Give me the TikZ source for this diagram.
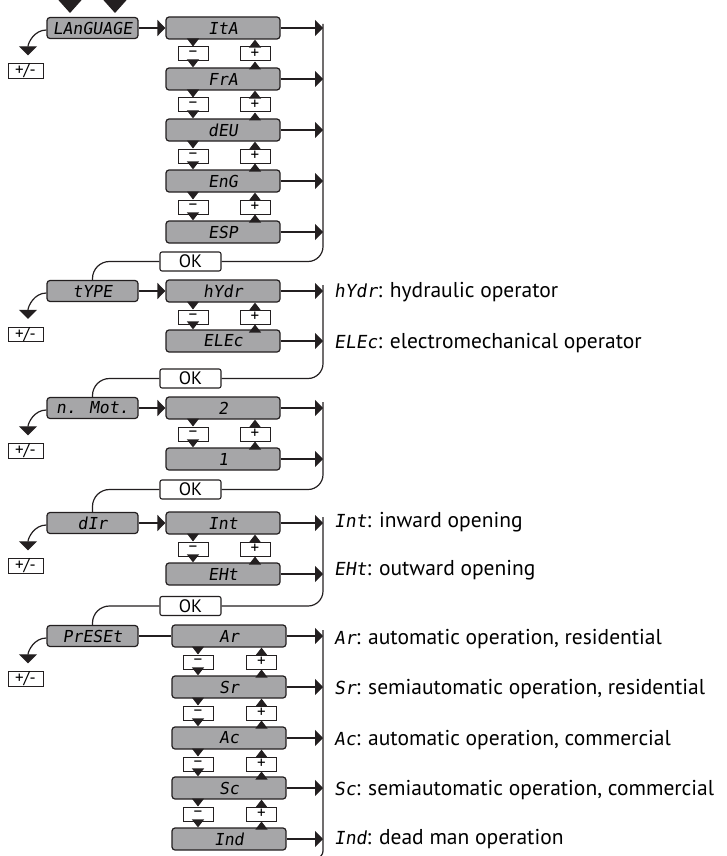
\documentclass[tikz,border=0pt]{standalone}
\usepackage{fontspec}
\setmainfont{PT Sans}
\newfontfamily\seg{DejaVu Sans Mono}[FakeSlant=0.15]
\usetikzlibrary{arrows.meta}
\definecolor{dispgray}{RGB}{166,166,168}
\definecolor{ink}{RGB}{35,31,32}
\newcommand\segtxt[1]{{\seg\fontsize{18}{18}\selectfont #1}}
\begin{document}
\begin{tikzpicture}[x=1pt,y=-1pt,
 conn/.style={draw=ink,line width=1.2pt},
 rarr/.style={conn,-{Triangle[length=8pt,width=16pt]}},
 varr/.style={conn,-{Triangle[length=8pt,width=12pt]}},
 pmarr/.style={conn,-{Triangle[length=9pt,width=18pt]}},
 toparr/.style={conn,-{Triangle[length=13pt,width=23pt]}},
 disp/.style={draw=ink,fill=dispgray,line width=1.2pt,rounded corners=3pt,minimum width=114pt,minimum height=22pt,inner sep=0pt,font=\seg\fontsize{16.5}{18}\selectfont},
 menu/.style={disp,minimum width=91pt,minimum height=21pt},
 okbox/.style={draw=ink,fill=white,line width=1.1pt,rounded corners=2pt,minimum width=61pt,minimum height=19pt,inner sep=0pt,font=\fontsize{18}{18}\selectfont},
 keybox/.style={draw=ink,fill=white,line width=1pt,minimum width=30pt,minimum height=14pt,inner sep=0pt,font=\fontsize{17}{14}\selectfont},
 pmbox/.style={keybox,minimum width=35pt,minimum height=12pt,font=\fontsize{17}{12}\selectfont},
 desc/.style={anchor=west,inner sep=0pt,font=\fontsize{21.5}{22}\selectfont},
]
\useasboundingbox (0,0) rectangle (726,856);

% top entry arrows
\coordinate (t1a) at (70,0); \coordinate (t1b) at (70,13);
\coordinate (t2a) at (115,0); \coordinate (t2b) at (115,13);
\draw[toparr] (t1a) -- (t1b);
\draw[toparr] (t2a) -- (t2b);

% menu boxes
\node[menu] (L1) at (92.5,28) {LAnGUAGE};
\node[menu] (L2) at (92.5,291) {tYPE};
\node[menu] (L3) at (92.5,408) {n. Mot.};
\node[menu] (L4) at (92.5,523) {dIr};
\node[menu] (L5) at (92.5,636) {PrESEt};

% option boxes
\node[disp] (a1) at (223,28) {ItA};
\node[disp] (a2) at (223,79) {FrA};
\node[disp] (a3) at (223,130) {dEU};
\node[disp] (a4) at (223,181) {EnG};
\node[disp] (a5) at (223,232) {ESP};
\node[disp] (b1) at (223,291) {hYdr};
\node[disp] (b2) at (223,341) {ELEc};
\node[disp] (c1) at (223,408) {2};
\node[disp] (c2) at (223,459) {1};
\node[disp] (d1) at (223,523) {Int};
\node[disp] (d2) at (223,574) {EHt};
\node[disp] (e1) at (229,636) {Ar};
\node[disp] (e2) at (229,687) {Sr};
\node[disp] (e3) at (229,738) {Ac};
\node[disp] (e4) at (229,788) {Sc};
\node[disp] (e5) at (229,839) {Ind};

% OK boxes
\node[okbox] (ok1) at (190.5,261.5) {OK};
\node[okbox] (ok2) at (190.5,378.5) {OK};
\node[okbox] (ok3) at (190.5,489.5) {OK};
\node[okbox] (ok4) at (190.5,606) {OK};

% -/+ keys between options
\foreach \u/\l/\y/\mx/\px in {a1/a2/54/193/255, a2/a3/105/193/255, a3/a4/156/193/255, a4/a5/207/193/255,
  b1/b2/317/193/255, c1/c2/434/193/255, d1/d2/549/193/255,
  e1/e2/662/198/261.5, e2/e3/713/198/261.5, e3/e4/764/198/261.5, e4/e5/814/198/261.5} {
 \node[keybox] (m-\u) at (\mx,\y) {–};
 \node[keybox] (p-\u) at (\px,\y) {+};
 \draw[varr] (\u.south -| m-\u) -- (m-\u.north);
 \draw[varr] (m-\u.south) -- (\l.north -| m-\u);
 \draw[varr] (p-\u.north) -- (\u.south -| p-\u);
 \draw[varr] (\l.north -| p-\u) -- (p-\u.south);
}

% menu -> first option
\draw[rarr] (L1) -- (a1);
\draw[rarr] (L2) -- (b1);
\draw[rarr] (L3) -- (c1);
\draw[rarr] (L4) -- (d1);
\draw[conn] (L5) -- (e1);

% right collector lines
\coordinate (va) at (323,24);
\coordinate (vb) at (323,285);
\coordinate (vc) at (323,402);
\coordinate (vd) at (323,517);
\coordinate (ve) at (323,630);
\coordinate (vend) at (300,858);
\foreach \n in {a1,a2,a3,a4,a5} \draw[rarr] (\n.east) -- (\n.east -| va);
\foreach \n in {b1,b2} \draw[rarr] (\n.east) -- (\n.east -| vb);
\foreach \n in {c1,c2} \draw[rarr] (\n.east) -- (\n.east -| vc);
\foreach \n in {d1,d2} \draw[rarr] (\n.east) -- (\n.east -| vd);
\foreach \n in {e1,e2,e3,e4,e5} \draw[rarr] (\n.east) -- (\n.east -| ve);
\draw[conn,rounded corners=15pt] (va) |- (ok1.east);
\draw[conn,rounded corners=15pt] (vb) |- (ok2.east);
\draw[conn,rounded corners=15pt] (vc) |- (ok3.east);
\draw[conn,rounded corners=15pt] (vd) |- (ok4.east);
\draw[conn,rounded corners=7pt] (ve) |- (vend);

% OK -> next menu
\draw[conn,rounded corners=17pt] (ok1.west) -| (L2.north);
\draw[conn,rounded corners=17pt] (ok2.west) -| (L3.north);
\draw[conn,rounded corners=17pt] (ok3.west) -| (L4.north);
\draw[conn,rounded corners=17pt] (ok4.west) -| (L5.north);

% +/- branches
\foreach \L/\y in {L1/71, L2/334.5, L3/451, L4/566, L5/679} {
 \node[pmbox] (pm-\L) at (25.5,\y) {+/-};
 \draw[pmarr] ([yshift=-2pt]\L.west) to[out=180,in=90] ([xshift=2.5pt,yshift=8pt]pm-\L.north);
}

% descriptions
\node[desc] (db1) at (334,292) {\segtxt{hYdr}: hydraulic operator};
\node[desc] (db2) at (334,343) {\segtxt{ELEc}: electromechanical operator};
\node[desc] (dd1) at (334,522) {\segtxt{Int}: inward opening};
\node[desc] (dd2) at (334,570) {\segtxt{EHt}: outward opening};
\node[desc] (de1) at (334,639) {\segtxt{Ar}: automatic operation, residential};
\node[desc] (de2) at (334,689) {\segtxt{Sr}: semiautomatic operation, residential};
\node[desc] (de3) at (334,740) {\segtxt{Ac}: automatic operation, commercial};
\node[desc] (de4) at (334,790) {\segtxt{Sc}: semiautomatic operation, commercial};
\node[desc] (de5) at (334,839) {\segtxt{Ind}: dead man operation};
\end{tikzpicture}
\end{document}
